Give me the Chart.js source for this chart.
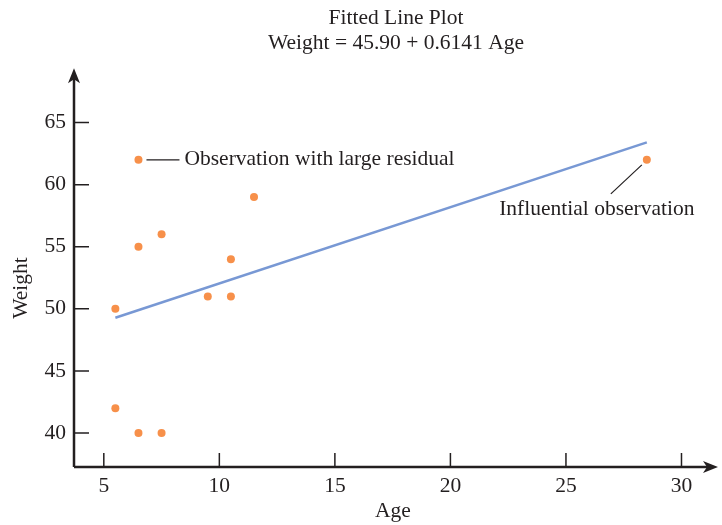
<!DOCTYPE html>
<html>
<head>
<meta charset="utf-8">
<script src="https://cdn.jsdelivr.net/npm/chart.js@4.4.1/dist/chart.umd.min.js"></script>
<style>
  html, body { margin: 0; padding: 0; background: #fff; }
</style>
</head>
<body>
<canvas id="chart" width="722" height="525"></canvas>
<script>
// data
const AGE    = [5.5, 5.5, 6.5, 6.5, 6.5, 7.5, 7.5, 9.5, 10.5, 10.5, 11.5, 28.5];
const WEIGHT = [50, 42, 62, 55, 40, 56, 40, 51, 54, 51, 59, 62];

// fitted line: Weight = 45.90 + 0.6141 Age, drawn across the observed ages
const FIT_AGE = [5.5, 28.5];
const FIT_INTERCEPT = 45.90;
const FIT_SLOPE = 0.6141;

const X_TICKS = [5, 10, 15, 20, 25, 30];
const Y_TICKS = [40, 45, 50, 55, 60, 65];

const TITLE = ["Fitted Line Plot", "Weight = 45.90 + 0.6141 Age"];
const X_LABEL = "Age";
const Y_LABEL = "Weight";
const NOTE_RESIDUAL = "Observation with large residual";
const NOTE_INFLUENTIAL = "Influential observation";
const IDX_RESIDUAL = 2;
const IDX_INFLUENTIAL = 11;

const INK = "#231f20";
const ORANGE = "#f7904a";
const BLUE = "#7898d4";
const FONT = "'Liberation Serif', 'Times New Roman', serif";

const points = AGE.map((a, i) => ({ x: a, y: WEIGHT[i] }));
const fitLine = FIT_AGE.map(a => ({ x: a, y: FIT_INTERCEPT + FIT_SLOPE * a }));

function arrowHead(ctx, x, y, dir){
  // dir: "right" or "up"
  ctx.save();
  ctx.translate(x, y);
  if (dir === "up") ctx.rotate(-Math.PI / 2);
  ctx.beginPath();
  ctx.moveTo(0, 0);
  ctx.lineTo(-15, -6);
  ctx.lineTo(-11, 0);
  ctx.lineTo(-15, 6);
  ctx.closePath();
  ctx.fill();
  ctx.restore();
}

const decorPlugin = {
  id: "decor",
  afterDatasetsDraw(chart){
    const { ctx, chartArea: a, scales: { x, y } } = chart;
    ctx.save();
    ctx.strokeStyle = INK;
    ctx.fillStyle = INK;

    // axes
    ctx.lineWidth = 2.5;
    ctx.beginPath();
    ctx.moveTo(a.left, a.bottom);
    ctx.lineTo(a.right - 6, a.bottom);
    ctx.moveTo(a.left, a.bottom);
    ctx.lineTo(a.left, a.top + 6);
    ctx.stroke();
    arrowHead(ctx, a.right, a.bottom, "right");
    arrowHead(ctx, a.left, a.top, "up");

    // inward tick marks
    ctx.lineWidth = 1.5;
    ctx.beginPath();
    X_TICKS.forEach(v => {
      const px = x.getPixelForValue(v);
      ctx.moveTo(px, a.bottom);
      ctx.lineTo(px, a.bottom - 14);
    });
    Y_TICKS.forEach(v => {
      const py = y.getPixelForValue(v);
      ctx.moveTo(a.left, py);
      ctx.lineTo(a.left + 15, py);
    });
    ctx.stroke();

    // axis titles
    ctx.font = `21.5px ${FONT}`;
    ctx.textAlign = "center";
    ctx.textBaseline = "middle";
    ctx.fillText(X_LABEL, 393, 511);
    ctx.save();
    ctx.translate(21, 288);
    ctx.rotate(-Math.PI / 2);
    ctx.fillText(Y_LABEL, 0, 0);
    ctx.restore();

    // annotations
    ctx.lineWidth = 1.2;
    const rx = x.getPixelForValue(AGE[IDX_RESIDUAL]);
    const ry = y.getPixelForValue(WEIGHT[IDX_RESIDUAL]);
    ctx.beginPath();
    ctx.moveTo(rx + 8, ry);
    ctx.lineTo(rx + 41, ry);
    ctx.stroke();
    ctx.textAlign = "left";
    ctx.fillText(NOTE_RESIDUAL, rx + 46, ry);

    const ix = x.getPixelForValue(AGE[IDX_INFLUENTIAL]);
    const iy = y.getPixelForValue(WEIGHT[IDX_INFLUENTIAL]);
    ctx.beginPath();
    ctx.moveTo(ix - 5, iy + 5);
    ctx.lineTo(ix - 36, iy + 34);
    ctx.stroke();
    ctx.textAlign = "center";
    ctx.fillText(NOTE_INFLUENTIAL, ix - 50, iy + 50);

    ctx.restore();
  }
};

new Chart(document.getElementById("chart"), {
  type: "scatter",
  data: {
    datasets: [
      {
        type: "line",
        label: "Fit",
        data: fitLine,
        borderColor: BLUE,
        borderWidth: 2.5,
        pointRadius: 0,
        fill: false
      },
      {
        label: "Observations",
        data: points,
        backgroundColor: ORANGE,
        borderColor: ORANGE,
        pointRadius: 4,
        borderWidth: 0
      }
    ]
  },
  options: {
    responsive: false,
    devicePixelRatio: 1,
    animation: false,
    layout: { padding: { left: 0, right: 2, top: 0, bottom: 0 } },
    plugins: {
      legend: { display: false },
      tooltip: { enabled: false },
      title: {
        display: true,
        fullSize: false,
        text: TITLE,
        color: INK,
        font: { family: FONT, size: 21.5, weight: "normal", lineHeight: 1.17 },
        padding: { top: 6, bottom: 12 }
      }
    },
    scales: {
      x: {
        type: "linear",
        min: 3.71,
        max: 31.58,
        afterBuildTicks: s => { s.ticks = X_TICKS.map(v => ({ value: v })); },
        afterFit: s => { s.height = 58; },
        grid: { display: false, drawTicks: false },
        border: { display: false },
        ticks: { color: INK, font: { family: FONT, size: 21.5 }, padding: 6, maxRotation: 0 }
      },
      y: {
        type: "linear",
        min: 37.26,
        max: 69.37,
        afterBuildTicks: s => { s.ticks = Y_TICKS.map(v => ({ value: v })); },
        afterFit: s => { s.width = 74; },
        grid: { display: false, drawTicks: false },
        border: { display: false },
        ticks: { color: INK, font: { family: FONT, size: 21.5 }, padding: 8 }
      }
    }
  },
  plugins: [decorPlugin]
});
</script>
</body>
</html>
